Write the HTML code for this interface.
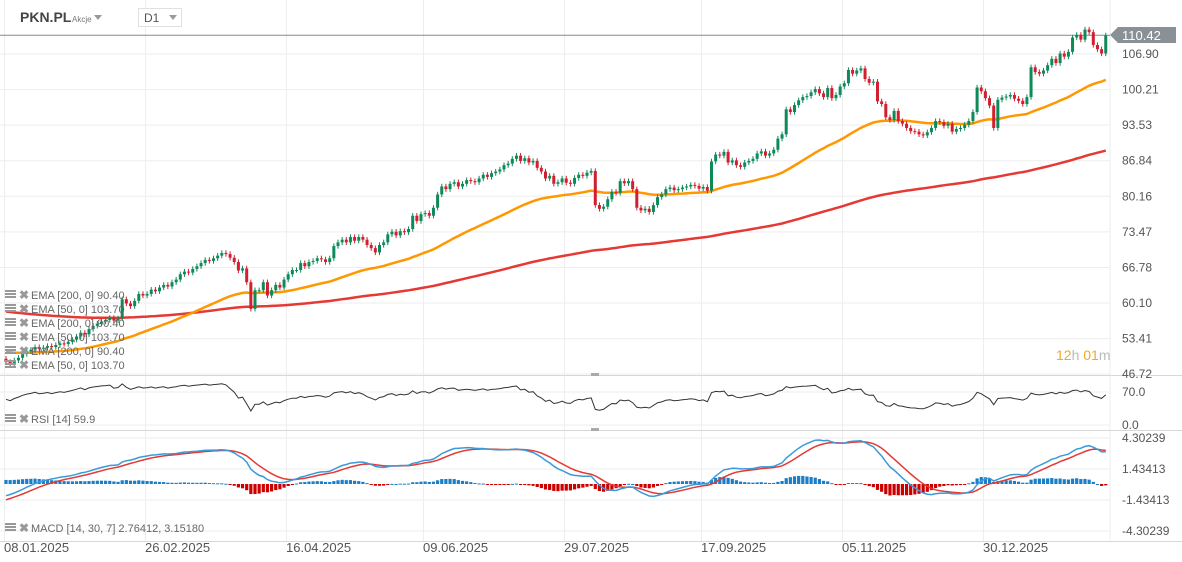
<!DOCTYPE html>
<html><head><meta charset="utf-8"><style>
body{margin:0;background:#fff;font-family:"Liberation Sans",sans-serif;}
#wrap{position:relative;width:1182px;height:562px;overflow:hidden;}
svg text{font-family:"Liberation Sans",sans-serif;}
</style></head><body>
<div id="wrap">
<svg id="chart" width="1182" height="562"></svg>
</div>
<script>
const closes = [
49,48.6,49.3,49.8,50.5,51,51.3,51.8,51.5,51.7,
52,51.8,52.2,52.5,52.4,52.8,53.2,53.8,54.5,54.2,
55.2,55.8,56.2,56.6,56.9,57.3,56.8,57.2,60.8,60,
59.5,60.5,61.8,61.5,61.8,62.6,62.3,63,63.5,63.2,
64,64.5,65.5,66,65.8,66.5,67,67.6,68.2,68,
68.5,69,69.5,69.3,68.6,67.8,66.2,66.6,64,59,
62.5,62.5,64,61.5,62.5,63.5,63,64.5,65.5,66.3,
66.3,67.6,67,67.8,68,68.5,68.3,67.8,68.5,70.8,
71.5,72,71.5,72.5,71.8,72.5,72,71,70.4,69.6,
71,71.5,73,73.5,72.8,73.6,73.4,74,76.5,75.5,
76.8,77,76.5,78,80.5,82,81.5,82.5,82.8,82,
82.5,83.2,83,82.8,83.5,84.2,83.8,84.5,84.8,85.2,
86,86.3,87.2,87.8,86.8,87.3,86.5,86.8,85.5,84.8,
83.5,84,82.5,82.8,83.5,82.7,82.5,83.6,84.2,84,
84.6,84.9,78.5,77.8,78.2,79.6,81,80.8,83,82.6,
83,81.5,78,77.5,77.8,77.2,78.5,80,80.5,81.5,
81.8,81.3,81.5,81.8,82,82.3,82.1,81.6,81.9,81.2,
86.7,88,87.8,88.5,86.5,86.9,86,85.7,86.5,86.8,
87.2,88.2,88.6,87.8,88.2,88.9,91,91.8,96.5,96,
97.3,98.2,98.8,99,99.7,100.3,99.5,98.8,100.5,98.6,
99.2,100.8,101.4,103.9,103.2,103.8,104.2,102.2,101.5,101.7,
98,97.5,95,94.5,96.2,94.3,93.8,93,92.4,92.3,
91.8,91.6,92.2,93,94.3,94.1,93.4,93.8,92.3,92.8,
93,93.6,94.3,96,100.6,99.9,98.6,97.2,93,98.3,
98.7,98.9,99.2,98.5,98.1,97.5,98.8,104.4,103.5,103.2,
103.8,104.8,106,105.2,107,106.4,107.3,110,110.5,109.6,
111.5,111,108.6,107.8,107,110.4];
const firstOpen = 49.6;
const ema50Seed = 51.0;
const ema200Seed = 58.6;
const priceTicks = ["106.90","100.21","93.53","86.84","80.16","73.47","66.78","60.10","53.41","46.72"];
const rsiTicks = ["70.0","0.0"];
const macdTicks = ["4.30239","1.43413","-1.43413","-4.30239"];
const dateLabels = ["08.01.2025","26.02.2025","16.04.2025","09.06.2025","29.07.2025","17.09.2025","05.11.2025","30.12.2025"];
const dateIdx = [0,34,68,101,135,168,202,236];
const lastPrice = 110.42;

const NS="http://www.w3.org/2000/svg";
const svg=document.getElementById('chart');
function mk(tag,attrs,parent){const e=document.createElementNS(NS,tag);for(const k in attrs)e.setAttribute(k,attrs[k]);(parent||svg).appendChild(e);return e;}
const X0=6, DX=4.15, RIGHT=1110;
const xOf=i=>X0+i*DX;
const yP=p=>54+(106.90-p)*5.32;
const yR=r=>425-r*(33/70);
const yM=m=>484.5-m*10.8;

const grid=mk('g',{});


priceTicks.forEach(t=>{const y=yP(parseFloat(t));mk('line',{x1:0,x2:RIGHT,y1:y,y2:y,stroke:'#eeeeee'},grid);});
[392,425].forEach(y=>mk('line',{x1:0,x2:RIGHT,y1:y,y2:y,stroke:'#eeeeee'},grid));
macdTicks.forEach(t=>{const y=yM(parseFloat(t));mk('line',{x1:0,x2:RIGHT,y1:y,y2:y,stroke:'#eeeeee'},grid);});
dateIdx.forEach(i=>{const x=Math.round(xOf(i)-2)+0.5;mk('line',{x1:x,x2:x,y1:0,y2:541,stroke:'#eeeeee'},grid);});
mk('line',{x1:RIGHT,x2:RIGHT,y1:0,y2:541,stroke:'#eeeeee'},grid);
[375,430,541].forEach(y=>{const l=mk('line',{x1:0,x2:1182,y1:y+.5,y2:y+.5,stroke:'#d8d8d8'});});
[375,430].forEach(y=>mk('rect',{x:591,y:y-2,width:8,height:3,fill:'#aaa'}));

function ema(arr,n,seed){const a=2/(n+1);let v=seed;return arr.map(c=>(v=v+a*(c-v)));}
const e50=ema(closes,50,ema50Seed), e200=ema(closes,200,ema200Seed);
function pathOf(vals,yf){return vals.map((v,i)=>(i?'L':'M')+xOf(i).toFixed(1)+' '+yf(v).toFixed(1)).join('');}
const l200=mk('path',{d:pathOf(e200,yP),fill:'none',stroke:'#e53935','stroke-width':2.5});


const l50=mk('path',{d:pathOf(e50,yP),fill:'none',stroke:'#ff9800','stroke-width':2.5});



const pl=mk('line',{x1:0,x2:RIGHT,y1:yP(lastPrice),y2:yP(lastPrice),stroke:'#888','stroke-width':1});



const cg=mk('g',{});


closes.forEach((c,i)=>{
  const o=i?closes[i-1]:firstOpen;
  const up=c>=o, col=up?'#0e8a5a':'#d11f2f';
  const hi=Math.max(o,c)+0.5, lo=Math.min(o,c)-0.5, x=xOf(i);
  mk('line',{x1:x,x2:x,y1:yP(hi),y2:yP(lo),stroke:col,'stroke-width':1},cg);
  const top=yP(Math.max(o,c)), h=Math.max(1,yP(Math.min(o,c))-top);
  const b=mk('rect',{x:x-1.5,y:top,width:3,height:h,fill:col},cg);
  
  
});

function rsi(arr,n){let ag=0,al=0;const out=[];for(let i=0;i<arr.length;i++){const d=i?arr[i]-arr[i-1]:0;const g=Math.max(d,0),l=Math.max(-d,0);if(i===0){ag=0.3;al=0.25;}ag=(ag*(n-1)+g)/n;al=(al*(n-1)+l)/n;out.push(100-100/(1+ag/(al||1e-9)));}return out;}
const rv=rsi(closes,14);
const rl=mk('path',{d:pathOf(rv,yR),fill:'none',stroke:'#333','stroke-width':1});



const ef=ema(closes,14,closes[0]-1.2), es=ema(closes,30,closes[0]);
const macd=ef.map((v,i)=>v-es[i]);
const sig=ema(macd,7,macd[0]-0.5);
const hg=mk('g',{});


macd.forEach((m,i)=>{const h=m-sig[i];const y0=484,hh=h*10.8;
  const r=mk('rect',{x:xOf(i)-1.6,y:hh>0?y0-hh:y0,width:3.2,height:Math.max(1,Math.abs(hh)),fill:h>=0?'#1a7fc8':'#cc0000'},hg);
  
  });
const sl=mk('path',{d:pathOf(sig,yM),fill:'none',stroke:'#e53935','stroke-width':1.5});


const ml=mk('path',{d:pathOf(macd,yM),fill:'none',stroke:'#3a9ad9','stroke-width':1.5});



function txt(x,y,s,attrs,name,inter){const t=mk('text',Object.assign({x:x,y:y,'font-size':12,fill:'#555'},attrs||{}));t.textContent=s;return t;}
priceTicks.forEach(t=>txt(1122,yP(parseFloat(t))+4,t,{},'price-tick-label'));
txt(1122,396,rsiTicks[0],{},'rsi-tick-label');
txt(1122,429,rsiTicks[1],{},'rsi-tick-label');
macdTicks.forEach(t=>txt(1122,yM(parseFloat(t))+4,t,{},'macd-tick-label'));
dateLabels.forEach((d,i)=>txt(Math.round(xOf(dateIdx[i])-2),552,d,{'font-size':13},'date-label'));

const tag=mk('path',{d:'M1110 35 L1118 27 L1176 27 L1176 43 L1118 43 Z',fill:'#8a9196'});


txt(1122,40,'110.42',{fill:'#fff','font-size':13},'last-price-label');

const cd=mk('text',{x:1056,y:360,'font-size':14,fill:'#f5a623'});


cd.innerHTML='12<tspan fill="#bbb">h</tspan> 01<tspan fill="#bbb">m</tspan>';

function legend(y,label,name){
  const g=mk('g',{});
  mk('rect',{x:5,y:y-8,width:11,height:2,fill:'#999'},g);mk('rect',{x:5,y:y-5,width:11,height:2,fill:'#999'},g);mk('rect',{x:5,y:y-2,width:11,height:2,fill:'#999'},g);
  const x=mk('text',{x:19,y:y+1,'font-size':12,fill:'#999','font-weight':'bold'},g);x.textContent='✖';
  const t=mk('text',{x:31,y:y+1,'font-size':11,fill:'#666'},g);t.textContent=label;
}
const emaRows=[["EMA [200,  0] 90.40",298],["EMA [50,  0] 103.70",312],["EMA [200,  0] 90.40",326],["EMA [50,  0] 103.70",340],["EMA [200,  0] 90.40",354],["EMA [50,  0] 103.70",368]];
emaRows.forEach(r=>legend(r[1],r[0],'ema-legend'));
legend(422,'RSI [14]  59.9','rsi-legend');
legend(531,'MACD [14,  30,  7] 2.76412,   3.15180','macd-legend');

const hd=mk('g',{});
const s1=mk('text',{x:20,y:22,'font-size':14,'font-weight':'bold',fill:'#444'},hd);s1.textContent='PKN.PL';
const s2=mk('text',{x:72,y:22,'font-size':8,fill:'#777'},hd);s2.textContent='Akcje';
mk('path',{d:'M94 15 L102 15 L98 20 Z',fill:'#999'},hd);
const tf=mk('g',{});
mk('rect',{x:138.5,y:8.5,width:43,height:18,fill:'#fff',stroke:'#e0e0e0'},tf);
const d1=mk('text',{x:144,y:22,'font-size':12,fill:'#555'},tf);d1.textContent='D1';
mk('path',{d:'M169 15 L177 15 L173 20 Z',fill:'#999'},tf);
</script>
</body></html>
